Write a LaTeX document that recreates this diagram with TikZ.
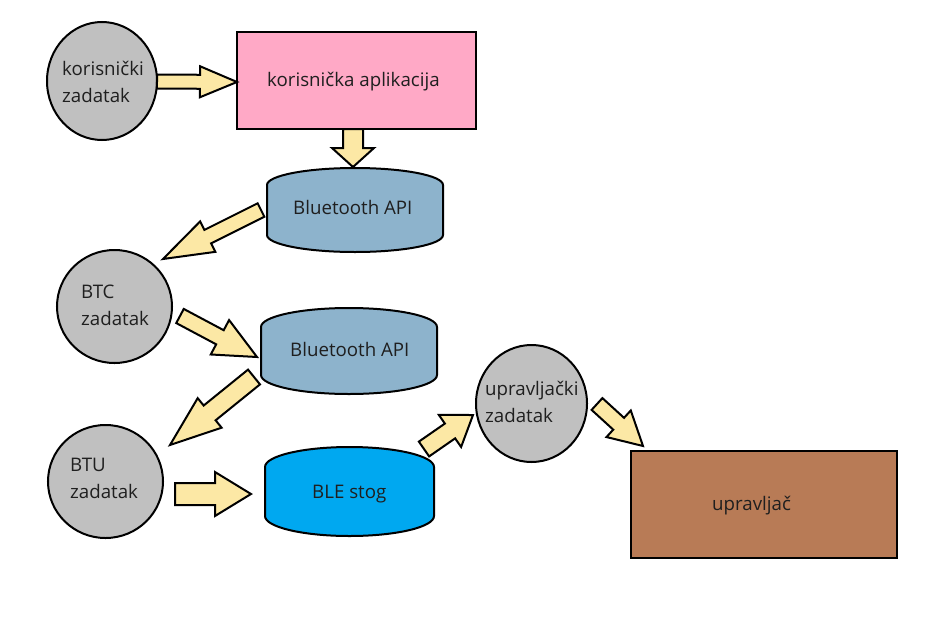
\documentclass[tikz,border=0pt]{standalone}
\usepackage{fontspec}
\setmainfont{Open Sans}
\usetikzlibrary{calc,shapes.geometric}
\definecolor{arrfill}{HTML}{FCE8A5}
\definecolor{taskgray}{HTML}{C0C0C0}
\definecolor{apppink}{HTML}{FFA9C6}
\definecolor{apiblue}{HTML}{8DB3CC}
\definecolor{bleblue}{HTML}{00A8F0}
\definecolor{ctrlbrown}{HTML}{B87B56}
\newcommand\blockarr[5]{% tail, tip, half shaft, half head, head length
  \coordinate (H) at ($(#2)!#5!(#1)$);
  \draw[barrow] ($(#1)!#3!90:(#2)$) -- ($(H)!#3!90:(#2)$) -- ($(H)!#4!90:(#2)$) -- (#2)
    -- ($(H)!#4!-90:(#2)$) -- ($(H)!#3!-90:(#2)$) -- ($(#1)!#3!-90:(#2)$) -- cycle;}
\newcommand\cylpath[6]{% style, x1, x2, y1, y2, ry
  \draw[#1] (#2,#4+#6) arc[start angle=180, end angle=0, x radius={(#3-#2)/2*1pt}, y radius=#6pt]
    -- (#3,#5-#6) arc[start angle=0, end angle=-180, x radius={(#3-#2)/2*1pt}, y radius=#6pt] -- cycle;}
\tikzset{
  outline/.style={draw=black, line width=2pt},
  barrow/.style={outline, fill=arrfill, line join=miter},
  task/.style={outline, ellipse, fill=taskgray, inner sep=0pt},
  box/.style={outline, rectangle, inner sep=0pt},
  txt/.style={anchor=base west, inner sep=0pt, font=\fontsize{18.7}{27}\selectfont, text=black!88},
}
\begin{document}
\begin{tikzpicture}[x=1pt,y=-1pt]
\useasboundingbox (0,0) rectangle (941,629);
% tasks
\node[task, minimum width=110pt, minimum height=118pt] (kz) at (102,81) {};
\node[task, minimum width=115pt, minimum height=113pt] (btc) at (114.5,306.5) {};
\node[task, minimum width=115pt, minimum height=113pt] (btu) at (105.5,481.5) {};
\node[task, minimum width=111pt, minimum height=117pt] (uz) at (531.5,403.5) {};
% boxes
\node[box, fill=apppink, minimum width=239pt, minimum height=97pt] (app) at (356.5,80.5) {};
\node[box, fill=ctrlbrown, minimum width=266pt, minimum height=107pt] (ctrl) at (764,504.5) {};
% cylinders
\cylpath{outline, fill=apiblue}{267}{443}{168}{252}{17}
\coordinate (api1) at (355,210);
\cylpath{outline, fill=apiblue}{261}{437}{308}{394}{19}
\coordinate (api2) at (349,351);
\cylpath{outline, fill=bleblue}{265}{434}{447}{536}{20}
\coordinate (ble) at (349.5,491.5);
% texts
\node[txt] (t1a) at (62,75) {korisnički};
\node[txt] (t1b) at (62,102) {zadatak};
\node[txt] (t2a) at (81,298) {BTC};
\node[txt] (t2b) at (81,325) {zadatak};
\node[txt] (t3a) at (70,471) {BTU};
\node[txt] (t3b) at (70,498) {zadatak};
\node[txt] (t4a) at (485,395) {upravljački};
\node[txt] (t4b) at (485,422) {zadatak};
\node[txt] (t5) at (267,86) {korisnička aplikacija};
\node[txt] (t6) at (293,214) {Bluetooth API};
\node[txt] (t7) at (290,356) {Bluetooth API};
\node[txt] (t8) at (312,498) {BLE stog};
\node[txt] (t9) at (712,510) {upravljač};
% arrow ends
\coordinate (a1s) at (157,81.5); \coordinate (a1e) at (237,82);
\coordinate (a2s) at (353,129);  \coordinate (a2e) at (353,167);
\coordinate (a3s) at (261,210);  \coordinate (a3e) at (163,259);
\coordinate (a4s) at (180,316);  \coordinate (a4e) at (257,357);
\coordinate (a5s) at (254,377);  \coordinate (a5e) at (170,445);
\coordinate (a6s) at (175,494);  \coordinate (a6e) at (251,494);
\coordinate (a7s) at (424,449);  \coordinate (a7e) at (473,415);
\coordinate (a8s) at (597,404);  \coordinate (a8e) at (643,446);
\blockarr{a1s}{a1e}{7pt}{15.5pt}{37pt}
\blockarr{a2s}{a2e}{10pt}{21pt}{19pt}
\blockarr{a3s}{a3e}{7.5pt}{17pt}{50pt}
\blockarr{a4s}{a4e}{8pt}{19.5pt}{42pt}
\blockarr{a5s}{a5e}{9.5pt}{19pt}{51pt}
\blockarr{a6s}{a6e}{11pt}{22pt}{36pt}
\blockarr{a7s}{a7e}{9pt}{19.5pt}{28pt}
\blockarr{a8s}{a8e}{8pt}{18pt}{33pt}
\end{tikzpicture}
\end{document}
